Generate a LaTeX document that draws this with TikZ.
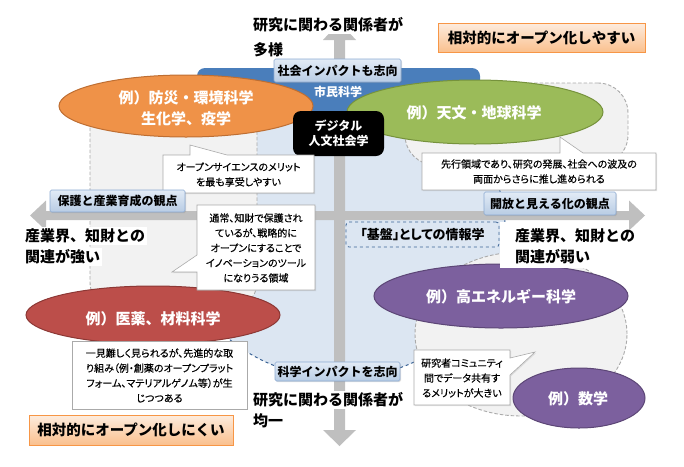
\documentclass[tikz,border=0pt]{standalone}
\usepackage{fontspec}
\setmainfont{Noto Sans CJK JP}
\newfontfamily\calfont{Noto Sans CJK JP}[RawFeature=+palt, FakeBold=0.35]
\newfontfamily\paltfont{Noto Sans CJK JP}[RawFeature=+palt]
\usetikzlibrary{shapes.geometric,shadows}

\definecolor{lblue}{RGB}{220,230,242}
\definecolor{dblue}{RGB}{74,126,187}
\definecolor{dashblue}{RGB}{60,100,150}
\definecolor{greyfill}{RGB}{242,242,242}
\definecolor{greyline}{RGB}{170,170,170}
\definecolor{arrowgrey}{RGB}{191,191,191}
\definecolor{orE}{RGB}{239,146,72}
\definecolor{orEd}{RGB}{190,110,50}
\definecolor{grE}{RGB}{155,187,89}
\definecolor{grEd}{RGB}{118,146,60}
\definecolor{rdE}{RGB}{188,78,74}
\definecolor{rdEd}{RGB}{140,56,53}
\definecolor{puE}{RGB}{124,96,158}
\definecolor{puEd}{RGB}{92,70,118}
\definecolor{lbTop}{RGB}{226,235,246}
\definecolor{lbBot}{RGB}{184,204,228}
\definecolor{lbLine}{RGB}{140,170,210}
\definecolor{obTop}{RGB}{253,236,222}
\definecolor{obBot}{RGB}{250,192,142}
\definecolor{obLine}{RGB}{247,150,70}

\begin{document}
\begin{tikzpicture}[x=1pt,y=-1pt,
  greyreg/.style={fill=greyfill, draw=greyline, line width=0.9pt, dash pattern=on 3.5pt off 2pt, inner sep=0pt},
  ell/.style={ellipse, inner sep=0pt, line width=1pt},
  etext/.style={text=white, font=\bfseries\fontsize{15}{21}\selectfont, align=center, inner sep=0pt},
  lbox/.style={top color=lbTop, bottom color=lbBot, draw=lbLine, line width=0.6pt, rounded corners=1.5pt,
    font=\bfseries\fontsize{12}{14}\selectfont, inner sep=0pt,
    drop shadow={opacity=0.25, shadow xshift=1pt, shadow yshift=-1.2pt}},
  obox/.style={top color=obTop, bottom color=obBot, draw=obLine, line width=0.7pt,
    font=\bfseries\fontsize{14.5}{17}\selectfont, inner sep=0pt,
    drop shadow={opacity=0.2, shadow xshift=1pt, shadow yshift=-1.2pt}},
  callbox/.style={fill=white, draw=greyline, line width=0.6pt,
    drop shadow={opacity=0.2, shadow xshift=1pt, shadow yshift=-1.2pt}},
  ctext/.style={font=\calfont\fontsize{10}{15}\selectfont, align=center, inner sep=0pt},
  ptext/.style={font=\bfseries\fontsize{15}{21}\selectfont, inner sep=1.5pt, anchor=west}
]
\useasboundingbox (0,0) rectangle (684,466);

% background regions
\node[ell, fill=lblue, draw=dashblue, dashed, minimum width=330pt, minimum height=300pt] (blueArea) at (340,228) {};
\node[greyreg, rounded corners=28pt, minimum width=167pt, minimum height=215pt] (greyL) at (173.5,202.5) {};
\node[greyreg, rounded corners=30pt, minimum width=223pt, minimum height=82pt] (greyTR) at (516.5,124) {};
\node[greyreg, ellipse, minimum width=212pt, minimum height=164pt] (greyBR) at (521,334) {};

% axes arrows
\fill[arrowgrey] (334,40) -- (323,40) -- (339.5,22) -- (356,40) -- (345,40) -- (345,430)
  -- (356,430) -- (339.5,446) -- (323,430) -- (334,430) -- cycle;
\fill[arrowgrey] (46,211) -- (46,200.5) -- (30,215.5) -- (46,230.5) -- (46,220) -- (629,220)
  -- (629,200.5) -- (645,215.5) -- (629,230.5) -- (629,211) -- cycle;

% citizen science band
\node[fill=dblue, rounded corners=8pt, minimum width=283pt, minimum height=44pt, inner sep=0pt] (citizen) at (338.5,90) {};
\node[text=white, font=\bfseries\fontsize{12}{14}\selectfont, inner sep=0pt] (citizenT) at (338,92) {市民科学};
\node[lbox, minimum width=127pt, minimum height=23pt] (socImp) at (337.5,70.5) {社会インパクトも志向};

% top ellipses
\node[ell, fill=orE, draw=orEd, minimum width=254pt, minimum height=62pt] (eOrange) at (186,106) {};
\node[etext] (tOrange) at (186,108) {例）防災・環境科学\\生化学、疫学};
\node[ell, fill=grE, draw=grEd, minimum width=256pt, minimum height=64pt] (eGreen) at (475,112) {};
\node[etext] (tGreen) at (474,113) {例）天文・地球科学};

\node[fill=black, rounded corners=8pt, minimum width=91pt, minimum height=45pt, inner sep=0pt,
  text=white, font=\bfseries\fontsize{12}{15}\selectfont, align=center] (digital) at (338.5,133.5) {デジタル\\人文社会学};

% bottom ellipses
\node[ell, fill=rdE, draw=rdEd, minimum width=254pt, minimum height=58pt] (eMed) at (153,315) {};
\node[etext] (tMed) at (153,319) {例）医薬、材料科学};
\node[ell, fill=puE, draw=puEd, minimum width=254pt, minimum height=64pt] (eHEP) at (501,296) {};
\node[etext] (tHEP) at (501,297) {例）高エネルギー科学};
\node[ell, fill=puE, draw=puEd, minimum width=132pt, minimum height=60pt] (eMath) at (579,398) {};
\node[etext] (tMath) at (578,399) {例）数学};

% callouts
\path[callbox] (163,155) -- (190,155) -- (190,145) -- (227,155) -- (314,155) -- (314,193) -- (163,193) -- cycle;
\node[ctext] (cA) at (238.5,174.5) {オープンサイエンスのメリット\\を最も享受しやすい};

\path[callbox] (422,153) -- (560,153) -- (560,137) -- (583,153) -- (656,153) -- (656,190) -- (422,190) -- cycle;
\node[ctext] (cB) at (539,171.5) {先行領域であり、研究の発展、社会への波及の\\両面からさらに推し進められる};

\path[callbox] (197,205) -- (315,205) -- (315,290) -- (197,290) -- (197,272) -- (172,272) -- (197,255) -- cycle;
\node[ctext] (cC) at (256,248) {通常、知財で保護され\\ているが、戦略的に\\オープンにすることで\\イノベーションのツール\\になりうる領域};

\path[callbox] (72,341) rectangle (247,409);
\node[ctext] (cD) at (159.5,375.5) {一見難しく見られるが、先進的な取\\り組み（例・創薬のオープンプラット\\フォーム、マテリアルゲノム等）が生\\じつつある};

\path[callbox] (414,350) -- (510,350) -- (510,358) -- (535,352) -- (510,375) -- (510,405) -- (414,405) -- cycle;
\node[ctext] (cE) at (462,378) {研究者コミュニティ\\間でデータ共有す\\るメリットが大きい};

% informatics box
\node[fill=lblue, draw=dashblue, dashed, line width=0.8pt, rounded corners=3pt, minimum width=153pt, minimum height=25pt,
  inner sep=0pt, font=\paltfont\bfseries\fontsize{13}{14}\selectfont] (kiban) at (422.5,234.5) {「基盤」としての情報学};

% viewpoint boxes
\node[lbox, minimum width=135pt, minimum height=22pt] (protect) at (117.5,201) {保護と産業育成の観点};
\node[lbox, minimum width=132pt, minimum height=23pt] (openview) at (550,203.5) {開放と見える化の観点};
\node[lbox, minimum width=125pt, minimum height=19pt] (sciImp) at (337.5,371.5) {科学インパクトを志向};

% orange boxes
\node[obox, minimum width=207pt, minimum height=29pt] (easy) at (541.5,37.5) {相対的にオープン化しやすい};
\node[obox, minimum width=204pt, minimum height=30pt] (hard) at (131,430) {相対的にオープン化しにくい};

% axis texts
\node[ptext, fill=white] (topT1) at (251.5,25) {研究に関わる関係者が};
\node[ptext] (topT2) at (251.5,50) {多様};
\node[ptext, fill=white] (botT1) at (251.5,400) {研究に関わる関係者が};
\node[ptext] (botT2) at (251.5,421) {均一};
\node[ptext, fill=white] (leftT1) at (23.5,236) {産業界、知財との};
\node[ptext, fill=white] (leftT2) at (23.5,257) {関連が強い};
\node[fill=white, inner sep=0pt, anchor=north west, minimum width=128pt, minimum height=46pt] (rightBG) at (500,222) {};
\node[ptext] (rightT1) at (513.5,236) {産業界、知財との};
\node[ptext] (rightT2) at (513.5,257) {関連が弱い};
\end{tikzpicture}
\end{document}
